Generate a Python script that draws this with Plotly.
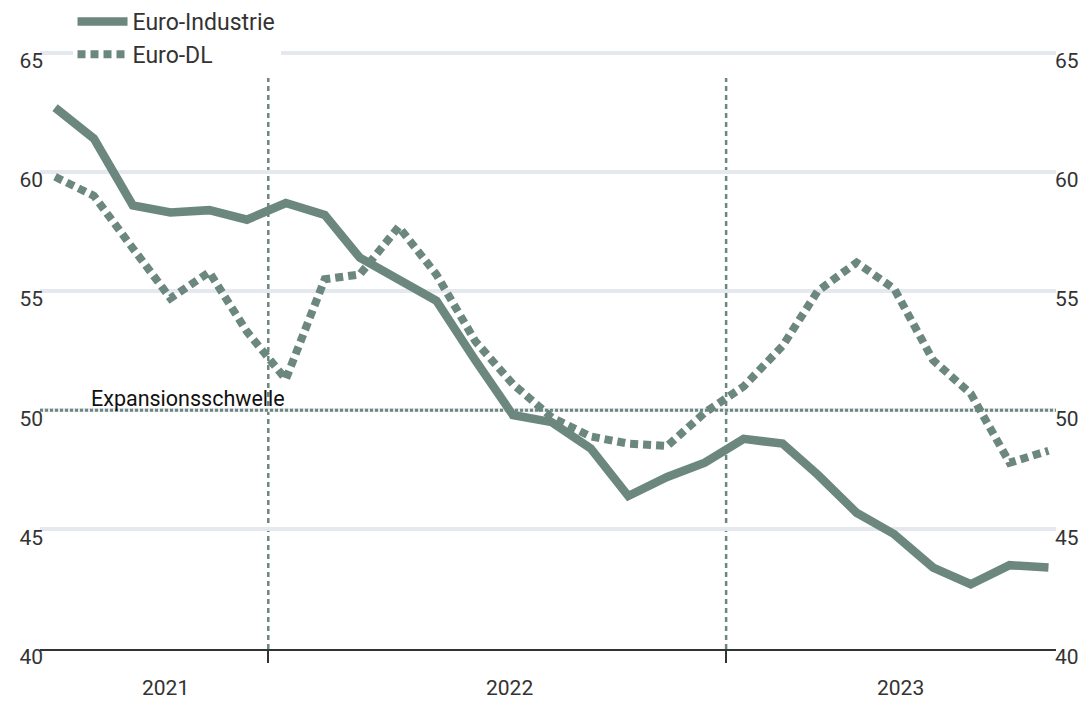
import plotly.graph_objects as go

# ---- data ----
months = [f"{y}-{m:02d}-15" for y in (2021, 2022, 2023) for m in range(1, 13)
          if (y, m) >= (2021, 7) and (y, m) <= (2023, 9)]
euro_industrie = [62.7, 61.4, 58.6, 58.3, 58.4, 58.0, 58.7, 58.2, 56.4, 55.5,
                  54.6, 52.1, 49.8, 49.5, 48.4, 46.4, 47.2, 47.8, 48.8, 48.6,
                  47.3, 45.7, 44.8, 43.4, 42.7, 43.5, 43.4]
euro_dl = [59.8, 59.0, 56.8, 54.7, 55.8, 53.3, 51.3, 55.5, 55.7, 57.7,
           55.7, 52.9, 51.1, 49.7, 48.9, 48.6, 48.5, 49.9, 51.0, 52.7,
           55.0, 56.2, 55.1, 52.1, 50.7, 47.8, 48.3]
year_boundaries = ["2022-01-01", "2023-01-01"]
year_labels = ["2021", "2022", "2023"]
year_label_pos = ["2021-10-11", "2022-07-12", "2023-05-20"]
y_ticks = [40, 45, 50, 55, 60, 65]
y_range = [39.98, 67.22]
threshold = 50
threshold_label = "Expansionsschwelle"

GREEN = "#6b877e"
GRID = "#e5e8ef"
TXT = "#333333"
FONT = "Roboto, sans-serif"

fig = go.Figure()
fig.add_trace(go.Scatter(x=months, y=euro_industrie, name="Euro-Industrie",
                         mode="lines", line=dict(color=GREEN, width=8.5)))
fig.add_trace(go.Scatter(x=months, y=euro_dl, name="Euro-DL", yaxis="y2",
                         mode="lines", line=dict(color=GREEN, width=8, dash="8px,5px")))

shapes = []
for b in year_boundaries:
    shapes.append(dict(type="line", xref="x", yref="paper", x0=b, x1=b, y0=0, y1=0.88,
                       line=dict(color=GREEN, width=2.5, dash="5px,4px"), layer="between"))
shapes.append(dict(type="line", xref="paper", yref="y", x0=0, x1=1, y0=threshold, y1=threshold,
                   line=dict(color=GREEN, width=3, dash="3px,2px"), layer="above"))

annotations = [dict(x=p, y=-0.06, xref="x", yref="paper", text=t, showarrow=False,
                    font=dict(size=21, color=TXT, family=FONT), xanchor="center", yanchor="middle")
               for p, t in zip(year_label_pos, year_labels)]
annotations.append(dict(x=0.048, y=threshold, xref="paper", yref="y", text=threshold_label,
                        showarrow=False, xanchor="left", yanchor="bottom", yshift=-3,
                        font=dict(size=21.5, color="#111111", family=FONT)))

fig.update_layout(
    width=1092, height=701, autosize=False,
    margin=dict(l=40, r=36, t=0, b=52),
    paper_bgcolor="white", plot_bgcolor="white",
    font=dict(family=FONT, color=TXT, size=21),
    showlegend=True,
    legend=dict(x=0.032, y=1.0, xanchor="left", yanchor="top", bgcolor="white",
                font=dict(size=23, color=TXT, family=FONT), itemwidth=50,
                tracegroupgap=0, entrywidth=180),
    shapes=shapes, annotations=annotations,
    xaxis=dict(type="date", range=["2021-07-03", "2023-09-21"],
               tickvals=year_boundaries, showticklabels=False,
               ticks="outside", ticklen=12, tickwidth=2, tickcolor=TXT,
               showgrid=False, showline=True, linecolor=TXT, linewidth=2, zeroline=False),
    yaxis=dict(range=y_range, tickvals=y_ticks, showgrid=True, gridcolor=GRID, gridwidth=4,
               zeroline=False, ticks="", ticklabelshift=8, ticklabelstandoff=-4,
               tickfont=dict(size=21, color=TXT, family=FONT)),
    yaxis2=dict(range=y_range, tickvals=y_ticks, overlaying="y", side="right", anchor="x",
                showgrid=False, zeroline=False, ticks="", ticklabelshift=8, ticklabelstandoff=-2,
                tickfont=dict(size=21, color=TXT, family=FONT)),
)

fig.write_html("out.html", post_script="document.body.style.margin='0';",
               config={"displayModeBar": False})
